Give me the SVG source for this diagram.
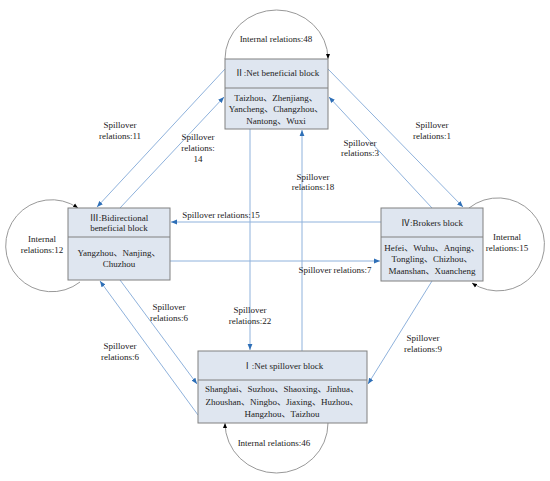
<svg xmlns="http://www.w3.org/2000/svg" width="550" height="481" viewBox="0 0 550 481">
<defs>
<style>
.t{font-family:"Liberation Serif","Noto Sans CJK SC",serif;font-size:9px;fill:#222;text-anchor:middle}
.box{fill:#dfe6f0;stroke:#808080;stroke-width:1}
.div{stroke:#808080;stroke-width:1}
.c{fill:none;stroke:#8fb2dc;stroke-width:1}
.loop{fill:none;stroke:#999;stroke-width:1}
</style>
<marker id="ab" viewBox="0 0 10 10" refX="10" refY="5" markerWidth="6" markerHeight="6" orient="auto" markerUnits="userSpaceOnUse"><path d="M0,1 L10,5 L0,9 Z" fill="#2e6fb7"/></marker>
<marker id="ak" viewBox="0 0 10 10" refX="10" refY="5" markerWidth="5" markerHeight="5" orient="auto" markerUnits="userSpaceOnUse"><path d="M0,1 L10,5 L0,9 Z" fill="#000"/></marker>
</defs>
<rect width="550" height="481" fill="#fff"/>
<g id="connectors">
<path class="c" d="M225,69 L97,207" marker-end="url(#ab)"/>
<path class="c" d="M120,208 L224,97" marker-end="url(#ab)"/>
<path class="c" d="M328,69 L463,207" marker-end="url(#ab)"/>
<path class="c" d="M432,208 L329,97" marker-end="url(#ab)"/>
<path class="c" d="M250,129 L250,350" marker-end="url(#ab)"/>
<path class="c" d="M302,351 L302,130" marker-end="url(#ab)"/>
<path class="c" d="M381,222 L171,222" marker-end="url(#ab)"/>
<path class="c" d="M170,261 L380,261" marker-end="url(#ab)"/>
<path class="c" d="M432,281 L368,384" marker-end="url(#ab)"/>
<path class="c" d="M120,280 L197,384" marker-end="url(#ab)"/>
<path class="c" d="M198,415 L100,281" marker-end="url(#ab)"/>
<path class="loop" d="M225,59 A51.5,49 0 0 1 328,59" marker-end="url(#ak)"/>
<path class="loop" d="M328,423 A51.5,50 0 0 1 225,423" marker-end="url(#ak)"/>
<path class="loop" d="M80,282 A46,46 0 1 1 78,208" marker-end="url(#ak)"/>
<path class="loop" d="M469,208 A46.5,46.5 0 1 1 472,283" marker-end="url(#ak)"/>
<text class="t" x="120" y="128">Spillover</text>
<text class="t" x="120" y="139">relations:11</text>
<text class="t" x="198" y="140">Spillover</text>
<text class="t" x="198" y="151">relations:</text>
<text class="t" x="198" y="162">14</text>
<text class="t" x="432" y="128">Spillover</text>
<text class="t" x="432" y="139">relations:1</text>
<text class="t" x="360" y="146">Spillover</text>
<text class="t" x="360" y="156">relations:3</text>
<text class="t" x="313" y="180">Spillover</text>
<text class="t" x="313" y="190">relations:18</text>
<text class="t" x="221" y="218">Spillover relations:15</text>
<text class="t" x="335" y="273">Spillover relations:7</text>
<text class="t" x="169" y="310">Spillover</text>
<text class="t" x="169" y="321">relations:6</text>
<text class="t" x="250" y="313">Spillover</text>
<text class="t" x="250" y="324">relations:22</text>
<text class="t" x="120" y="349">Spillover</text>
<text class="t" x="120" y="360">relations:6</text>
<text class="t" x="423" y="341">Spillover</text>
<text class="t" x="423" y="352">relations:9</text>
<text class="t" x="276" y="42">Internal relations:48</text>
<text class="t" x="42" y="242">Internal</text>
<text class="t" x="42" y="253">relations:12</text>
<text class="t" x="507" y="240">Internal</text>
<text class="t" x="507" y="251">relations:15</text>
<text class="t" x="274" y="446">Internal relations:46</text>
</g>
<g id="block2">
<rect class="box" x="225" y="59" width="103" height="70"/>
<line class="div" x1="225" y1="88" x2="328" y2="88"/>
<text class="t" x="277" y="76">Ⅱ:Net beneficial block</text>
<text class="t" x="276" y="101">Taizhou、Zhenjiang、</text>
<text class="t" x="276" y="112">Yancheng、Changzhou、</text>
<text class="t" x="276" y="124">Nantong、Wuxi</text>
</g>
<g id="block3">
<rect class="box" x="68" y="208" width="102" height="72"/>
<line class="div" x1="68" y1="237" x2="170" y2="237"/>
<text class="t" x="119" y="221">Ⅲ:Bidirectional</text>
<text class="t" x="119" y="231">beneficial block</text>
<text class="t" x="119" y="256">Yangzhou、Nanjing、</text>
<text class="t" x="119" y="267">Chuzhou</text>
</g>
<g id="block4">
<rect class="box" x="381" y="208" width="102" height="73"/>
<line class="div" x1="381" y1="237" x2="483" y2="237"/>
<text class="t" x="432" y="226">Ⅳ:Brokers block</text>
<text class="t" x="432" y="251">Hefei、Wuhu、Anqing、</text>
<text class="t" x="432" y="262">Tongling、Chizhou、</text>
<text class="t" x="432" y="274">Maanshan、Xuancheng</text>
</g>
<g id="block1">
<rect class="box" x="198" y="351" width="169" height="72"/>
<line class="div" x1="198" y1="380" x2="367" y2="380"/>
<text class="t" x="283" y="369">Ⅰ:Net spillover block</text>
<text class="t" x="282" y="392">Shanghai、Suzhou、Shaoxing、Jinhua、</text>
<text class="t" x="282" y="405">Zhoushan、Ningbo、Jiaxing、Huzhou、</text>
<text class="t" x="282" y="417">Hangzhou、Taizhou</text>
</g>
</svg>
